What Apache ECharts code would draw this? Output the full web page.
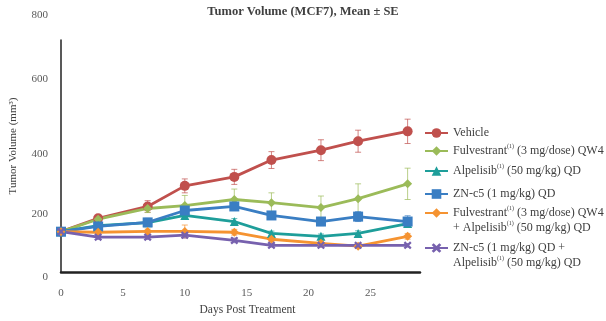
<!DOCTYPE html>
<html>
<head>
<meta charset="utf-8">
<script src="https://cdn.jsdelivr.net/npm/echarts@6/dist/echarts.min.js"></script>
<style>
  html, body { margin: 0; padding: 0; background: #fff; }
  #chart { width: 606px; height: 321px; }
</style>
</head>
<body>
<div id="chart"></div>
<script>
// Measurement days
const days = [0, 3, 7, 10, 14, 17, 21, 24, 28];

// Mean tumour volume (mm³) per group
const vehicle      = [139, 185, 226, 297, 328, 386, 420, 451, 485];
const fulvestrant  = [139, 182, 219, 229, 250, 239, 222, 253, 304];
const alpelisib    = [139, 160, 170, 195, 174, 133, 123, 133, 167];
const znc5         = [139, 157, 171, 212, 226, 195, 174, 191, 174];
const fulvAlp      = [139, 137, 140, 140, 137, 113,  99,  89, 123];
const znc5Alp      = [139, 120, 120, 127, 109,  92,  92,  92,  92];

// Standard error of each mean
const vehicleSE     = [5, 10, 20, 24, 26, 29, 36, 38, 42];
const fulvestrantSE = [5, 8, 14, 35, 36, 34, 40, 51, 54];
const alpelisibSE   = [5, 6, 8, 12, 10, 8, 8, 9, 10];
const znc5SE        = [5, 8, 14, 17, 14, 12, 14, 17, 20];
const fulvAlpSE     = [5, 6, 8, 22, 10, 8, 8, 8, 10];
const znc5AlpSE     = [5, 8, 8, 10, 8, 6, 6, 6, 6];

// Axis tick values
const yTicks = [0, 200, 400, 600, 800];
const xTicks = [0, 5, 10, 15, 20, 25];

const groupNames = [
  'Vehicle',
  'Fulvestrant (3 mg/dose) QW4',
  'Alpelisib (50 mg/kg) QD',
  'ZN-c5 (1 mg/kg) QD',
  'Fulvestrant + Alpelisib',
  'ZN-c5 + Alpelisib'
];
const legendText = {
  'Vehicle': 'Vehicle',
  'Fulvestrant (3 mg/dose) QW4': 'Fulvestrant{sup|(1)} (3 mg/dose) QW4',
  'Alpelisib (50 mg/kg) QD': 'Alpelisib{sup|(1)} (50 mg/kg) QD',
  'ZN-c5 (1 mg/kg) QD': 'ZN-c5 (1 mg/kg) QD',
  'Fulvestrant + Alpelisib': 'Fulvestrant{sup|(1)} (3 mg/dose) QW4\n+ Alpelisib{sup|(1)} (50 mg/kg) QD',
  'ZN-c5 + Alpelisib': 'ZN-c5 (1 mg/kg) QD +\nAlpelisib{sup|(1)} (50 mg/kg) QD'
};

const means = [vehicle, fulvestrant, alpelisib, znc5, fulvAlp, znc5Alp];
const errors = [vehicleSE, fulvestrantSE, alpelisibSE, znc5SE, fulvAlpSE, znc5AlpSE];
const colors = ['#C0504D', '#9BBB59', '#1E9E9A', '#3A7EC3', '#F59331', '#7761AE'];
const xPath = 'path://M2,0L5,3L8,0L10,2L7,5L10,8L8,10L5,7L2,10L0,8L3,5L0,2Z';
const symbols = ['circle', 'diamond', 'triangle', 'rect', 'diamond', xPath];
const symbolSizes = [10, 9, 9, 10, 9, 8];

const serif = 'Liberation Serif';

const series = [];
// error bars first so lines sit above them
means.forEach((m, i) => {
  series.push({
    type: 'custom',
    name: groupNames[i] + ' SE',
    silent: true,
    z: 1,
    data: days.map((d, k) => [d, m[k] - errors[i][k], m[k] + errors[i][k]]),
    renderItem: function (params, api) {
      const lo = api.coord([api.value(0), api.value(1)]);
      const hi = api.coord([api.value(0), api.value(2)]);
      const cap = 3;
      const st = { stroke: colors[i], lineWidth: 1, opacity: 0.7 };
      return {
        type: 'group',
        children: [
          { type: 'line', shape: { x1: lo[0], y1: lo[1], x2: hi[0], y2: hi[1] }, style: st },
          { type: 'line', shape: { x1: lo[0] - cap, y1: lo[1], x2: lo[0] + cap, y2: lo[1] }, style: st },
          { type: 'line', shape: { x1: hi[0] - cap, y1: hi[1], x2: hi[0] + cap, y2: hi[1] }, style: st }
        ]
      };
    }
  });
});
means.forEach((m, i) => {
  series.push({
    type: 'line',
    name: groupNames[i],
    z: 3,
    data: days.map((d, k) => [d, m[k]]),
    symbol: symbols[i],
    symbolSize: symbolSizes[i],
    showAllSymbol: true,
    lineStyle: { color: colors[i], width: 2.8 },
    itemStyle: { color: colors[i] },
    emphasis: { disabled: true }
  });
});

// Legend entries, stacked on the right; two-line entries keep the key on the first line
const legendTops = [125.5, 143.5, 163.5, 186.5, 190.5, 225.5];
const legends = groupNames.map((n, i) => {
  const twoLine = legendText[n].indexOf('\n') >= 0;
  return {
    orient: 'vertical',
    left: 424,
    top: legendTops[i],
    padding: 0,
    itemWidth: 23,
    itemHeight: 12,
    itemGap: 0,
    selectedMode: false,
    data: [{ name: n, textStyle: twoLine ? { padding: [15, 0, 0, 0] } : {} }],
    formatter: name => legendText[name],
    textStyle: {
      fontFamily: serif,
      fontSize: 12,
      color: '#404040',
      lineHeight: 15,
      rich: {
        sup: { fontSize: 6, fontFamily: serif, color: '#404040', verticalAlign: 'top', lineHeight: 15 }
      }
    }
  };
});

const chart = echarts.init(document.getElementById('chart'), null, { renderer: 'canvas' });
chart.setOption({
  animation: false,
  backgroundColor: '#ffffff',
  title: {
    text: 'Tumor Volume (MCF7), Mean ± SE',
    left: 'center',
    top: 0,
    textStyle: { fontFamily: serif, fontWeight: 'bold', fontSize: 12.5, color: '#404040' }
  },
  legend: legends,
  grid: { left: 57, right: 186, top: 40, bottom: 47, containLabel: false },
  xAxis: {
    type: 'value',
    min: 0,
    max: 29,
    interval: 5,
    name: 'Days Post Treatment',
    nameLocation: 'middle',
    nameGap: 32,
    nameTextStyle: { fontFamily: serif, fontSize: 11.5, color: '#404040', padding: [0, 0, 0, 14] },
    axisLine: { lineStyle: { color: '#222', width: 2.5 } },
    axisTick: { show: false },
    splitLine: { show: false },
    axisLabel: {
      margin: 16,
      fontFamily: serif,
      fontSize: 11,
      color: '#595959',
      formatter: v => (xTicks.indexOf(v) >= 0 ? String(v) : '')
    }
  },
  yAxis: {
    type: 'value',
    min: yTicks[0],
    max: yTicks[yTicks.length - 1],
    interval: 200,
    name: 'Tumor Volume (mm³)',
    nameLocation: 'middle',
    nameGap: 42,
    nameTextStyle: { fontFamily: serif, fontSize: 11, color: '#404040', padding: [0, 0, 0, 20] },
    axisLine: { show: true, lineStyle: { color: '#222', width: 1.5 } },
    axisTick: { show: false },
    splitLine: { show: false },
    axisLabel: {
      margin: 13,
      fontFamily: serif,
      fontSize: 11,
      color: '#595959',
      formatter: v => '{t' + v + '|' + v + '}',
      rich: {
        t0: { padding: [10, 0, 0, 0] },
        t200: {},
        t400: { padding: [0, 0, 4, 0] },
        t600: { padding: [0, 0, 38, 0] },
        t800: { padding: [0, 0, 50, 0] }
      }
    }
  },
  series: series
});
</script>
</body>
</html>
